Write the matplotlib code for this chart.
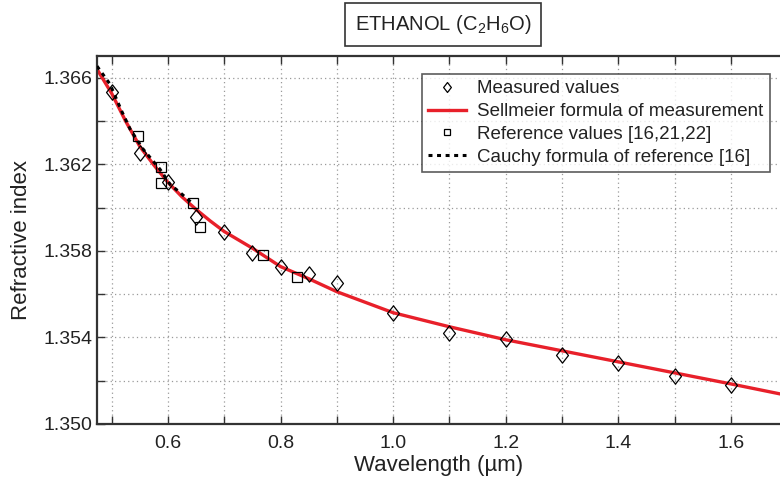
import matplotlib
matplotlib.use("Agg")
import matplotlib.pyplot as plt
from matplotlib.ticker import FixedLocator, FormatStrFormatter
from matplotlib.path import Path

plt.rcParams['font.family'] = ['Liberation Sans', 'DejaVu Sans']
plt.rcParams['mathtext.fontset'] = 'custom'
plt.rcParams['mathtext.rm'] = 'Liberation Sans'
plt.rcParams['mathtext.it'] = 'Liberation Sans'

# measured values (diamonds)
meas_wl = [0.50, 0.55, 0.60, 0.65, 0.70, 0.75, 0.80, 0.85, 0.90, 1.00,
           1.10, 1.20, 1.30, 1.40, 1.50, 1.60]
meas_n = [1.36532, 1.36250, 1.36120, 1.35958, 1.35889, 1.35792, 1.35727,
          1.35694, 1.35653, 1.35514, 1.35421, 1.35394, 1.35319, 1.35282,
          1.35222, 1.35181]

# reference values (squares)
ref_wl = [0.546, 0.588, 0.588, 0.644, 0.656, 0.768, 0.829]
ref_n = [1.36329, 1.36185, 1.36111, 1.36019, 1.35912, 1.35782, 1.35681]

# Sellmeier curve
sell_wl = [0.474, 0.50, 0.525, 0.55, 0.575, 0.60, 0.625, 0.65, 0.675, 0.70,
           0.75, 0.80, 0.85, 0.90, 1.00, 1.10, 1.20, 1.30, 1.40, 1.50,
           1.60, 1.687]
sell_n = [1.36639, 1.36527, 1.36398, 1.36282, 1.36196, 1.36116, 1.36049,
          1.35991, 1.35938, 1.35889, 1.35812, 1.35727, 1.35671, 1.35611,
          1.35514, 1.35449, 1.35389, 1.35338, 1.35287, 1.35236, 1.35185,
          1.35139]

# Cauchy curve of reference
cau_wl = [0.474, 0.497, 0.518, 0.533, 0.556, 0.586, 0.604, 0.621, 0.643]
cau_n = [1.36653, 1.36570, 1.36444, 1.36361, 1.36269, 1.36176, 1.36106,
         1.36070, 1.36020]

x_major = [0.6, 0.8, 1.0, 1.2, 1.4, 1.6]
x_minor = [0.5, 0.7, 0.9, 1.1, 1.3, 1.5]
y_major = [1.350, 1.354, 1.358, 1.362, 1.366]
y_minor = [1.352, 1.356, 1.360, 1.364]

diamond = Path([(0, 1), (0.78, 0), (0, -1), (-0.78, 0), (0, 1)],
               [Path.MOVETO, Path.LINETO, Path.LINETO, Path.LINETO,
                Path.CLOSEPOLY])

fig = plt.figure(figsize=(7.8, 4.78), dpi=100)
ax = fig.add_axes([0.1244, 0.113, 0.8756, 0.7699])

ax.plot(sell_wl, sell_n, color='#e8202a', lw=2.4, zorder=2,
        label='Sellmeier formula of measurement')
ax.plot(cau_wl, cau_n, color='black', lw=2.2, ls=(0, (1.3, 1.5)), zorder=3,
        label='Cauchy formula of reference [16]')
ax.plot(meas_wl, meas_n, ls='none', marker=diamond, ms=11, mfc='none',
        mec='black', mew=0.9, zorder=4, label='Measured values')
ax.plot(ref_wl, ref_n, ls='none', marker='s', ms=7, mfc='none',
        mec='black', mew=0.9, zorder=4, label='Reference values [16,21,22]')

ax.set_xlim(0.474, 1.687)
ax.set_ylim(1.350, 1.367)
ax.xaxis.set_major_locator(FixedLocator(x_major))
ax.xaxis.set_minor_locator(FixedLocator(x_minor))
ax.yaxis.set_major_locator(FixedLocator(y_major))
ax.yaxis.set_minor_locator(FixedLocator(y_minor))
ax.xaxis.set_major_formatter(FormatStrFormatter('%.1f'))
ax.yaxis.set_major_formatter(FormatStrFormatter('%.3f'))
ax.grid(which='both', color='#9a9a9a', ls=(0, (1, 2.5)), lw=0.9)
ax.tick_params(which='both', direction='in', top=True, right=False,
               length=6, width=1, color='#333333', labelsize=14,
               labelcolor='#222222')
ax.tick_params(axis='x', pad=8)
for s in ['left', 'bottom', 'top']:
    ax.spines[s].set_linewidth(1.6)
    ax.spines[s].set_color('#333333')
ax.spines['right'].set_visible(False)

ax.set_xlabel('Wavelength (µm)', fontsize=16, color='#222222', labelpad=2)
ax.set_ylabel('Refractive index', fontsize=16, color='#222222', labelpad=8)

h, l = ax.get_legend_handles_labels()
order = [2, 0, 3, 1]
leg = ax.legend([h[i] for i in order], [l[i] for i in order],
                loc='upper right', bbox_to_anchor=(0.985, 0.952),
                fontsize=13.5, frameon=True, fancybox=False, handlelength=2.0,
                handletextpad=0.6, borderpad=0.35, labelspacing=0.3,
                borderaxespad=0, markerscale=0.65)
leg.get_frame().set_edgecolor('#333333')
leg.get_frame().set_linewidth(1.2)
for t in leg.get_texts():
    t.set_color('#222222')

fig.text(0.568, 0.949, 'ETHANOL (C$_2$H$_6$O)', fontsize=14.5, ha='center',
         va='center', color='#222222',
         bbox=dict(boxstyle='square,pad=0.5', fc='white', ec='#333333',
                   lw=1.2))

fig.savefig('out.png', dpi=100)
